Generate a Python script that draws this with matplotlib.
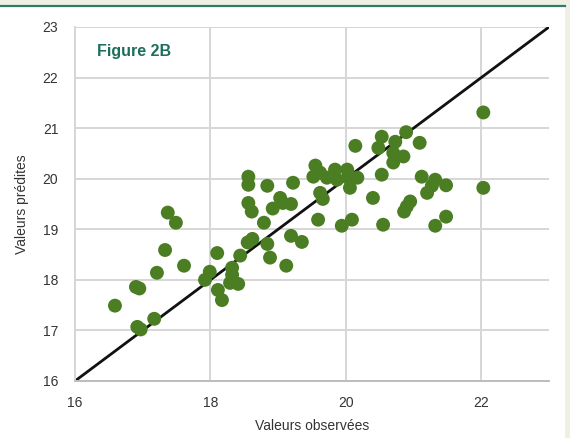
import matplotlib
matplotlib.use("Agg")
import matplotlib.pyplot as plt
from matplotlib.patches import Rectangle
from matplotlib.lines import Line2D

# Observed vs predicted values
observed = [16.59, 16.90, 16.95, 16.92, 16.97, 17.17, 17.21, 17.33, 17.37, 17.49,
            17.61, 17.92, 17.99, 18.10, 18.11, 18.17, 18.29, 18.41, 18.32, 18.32,
            18.44, 18.55, 18.62, 18.84, 18.88, 19.12, 19.19, 19.35, 18.79, 18.56,
            18.61, 18.92, 19.03, 19.07, 19.19, 18.56, 18.56, 18.84, 19.22, 19.55,
            19.52, 19.62, 19.72, 19.84, 19.87, 20.02, 20.03, 20.17, 20.06, 19.62,
            19.66, 19.59, 19.94, 20.09, 20.14, 20.40, 20.53, 20.55, 20.53, 20.48,
            20.73, 20.70, 20.70, 20.85, 20.89, 21.09, 21.12, 21.32, 21.27, 21.20,
            21.48, 20.95, 20.90, 20.86, 21.48, 21.32, 22.03, 22.03]
predicted = [17.49, 17.86, 17.83, 17.07, 17.02, 17.23, 18.14, 18.59, 19.33, 19.13,
             18.28, 18.00, 18.16, 18.53, 17.80, 17.60, 17.94, 17.92, 18.10, 18.24,
             18.48, 18.74, 18.81, 18.71, 18.44, 18.28, 18.87, 18.75, 19.13, 19.52,
             19.35, 19.41, 19.62, 19.52, 19.50, 20.04, 19.88, 19.86, 19.92, 20.26,
             20.04, 20.12, 20.02, 20.18, 19.98, 20.18, 20.02, 20.02, 19.82, 19.72,
             19.60, 19.19, 19.07, 19.19, 20.65, 19.62, 20.08, 19.09, 20.83, 20.61,
             20.73, 20.51, 20.32, 20.44, 20.92, 20.71, 20.04, 19.98, 19.86, 19.72,
             19.87, 19.55, 19.45, 19.35, 19.25, 19.07, 21.31, 19.82]

ticks = [16, 18, 20, 22]
yticks = [16, 17, 18, 19, 20, 21, 22, 23]
axis_min, axis_max = 16, 23

W, H = 570, 438
fig = plt.figure(figsize=(W / 100, H / 100), dpi=100)
fig.patch.set_facecolor("#eef0e3")

# white card and teal rule at the top
fig.patches.append(Rectangle((0, 0), 565 / W, (H - 7) / H, transform=fig.transFigure,
                             facecolor="white", edgecolor="none", zorder=-10))
fig.lines.append(Line2D([0, 565 / W], [1 - 5.5 / H, 1 - 5.5 / H], transform=fig.transFigure,
                        color="#2f7a68", linewidth=1.6, zorder=-5))

ax = fig.add_axes([75 / W, 1 - 381 / H, (549 - 75) / W, (381 - 27) / H])
ax.set_zorder(1)
ax.set_facecolor("white")
ax.set_xlim(axis_min, axis_max)
ax.set_ylim(axis_min, axis_max)
ax.set_xticks(ticks)
ax.set_yticks(yticks)
ax.grid(True, color="#d6d6d6", linewidth=1.4, zorder=0)
ax.set_axisbelow(True)
for side in ["top", "right"]:
    ax.spines[side].set_visible(False)
ax.spines["left"].set_color("#d6d6d6")
ax.spines["left"].set_linewidth(1.4)
ax.spines["bottom"].set_color("#bdbdbd")
ax.spines["bottom"].set_linewidth(1.4)

font = "Liberation Sans"
ax.tick_params(length=0, labelsize=10, labelcolor="#333333")
ax.tick_params(axis="y", pad=12)
ax.tick_params(axis="x", pad=11)
for lab in ax.get_xticklabels() + ax.get_yticklabels():
    lab.set_fontfamily(font)

ax.plot([axis_min, axis_max], [axis_min, axis_max], color="#111111", linewidth=2, zorder=2)
ax.scatter(observed, predicted, s=100, color="#4b7d23", edgecolors="none", zorder=3)

ax.set_xlabel("Valeurs observées", fontsize=10, family=font, color="#333333", labelpad=6)
ax.set_ylabel("Valeurs prédites", fontsize=10, family=font, color="#333333", labelpad=10)

ax.text(0.046, 0.932, "Figure 2B", transform=ax.transAxes, fontsize=11.5,
        fontweight="bold", color="#1d6e5c", family=["DejaVu Sans Condensed", "Liberation Sans"],
        va="center", ha="left")

fig.savefig("out.png", dpi=100, facecolor=fig.get_facecolor())
